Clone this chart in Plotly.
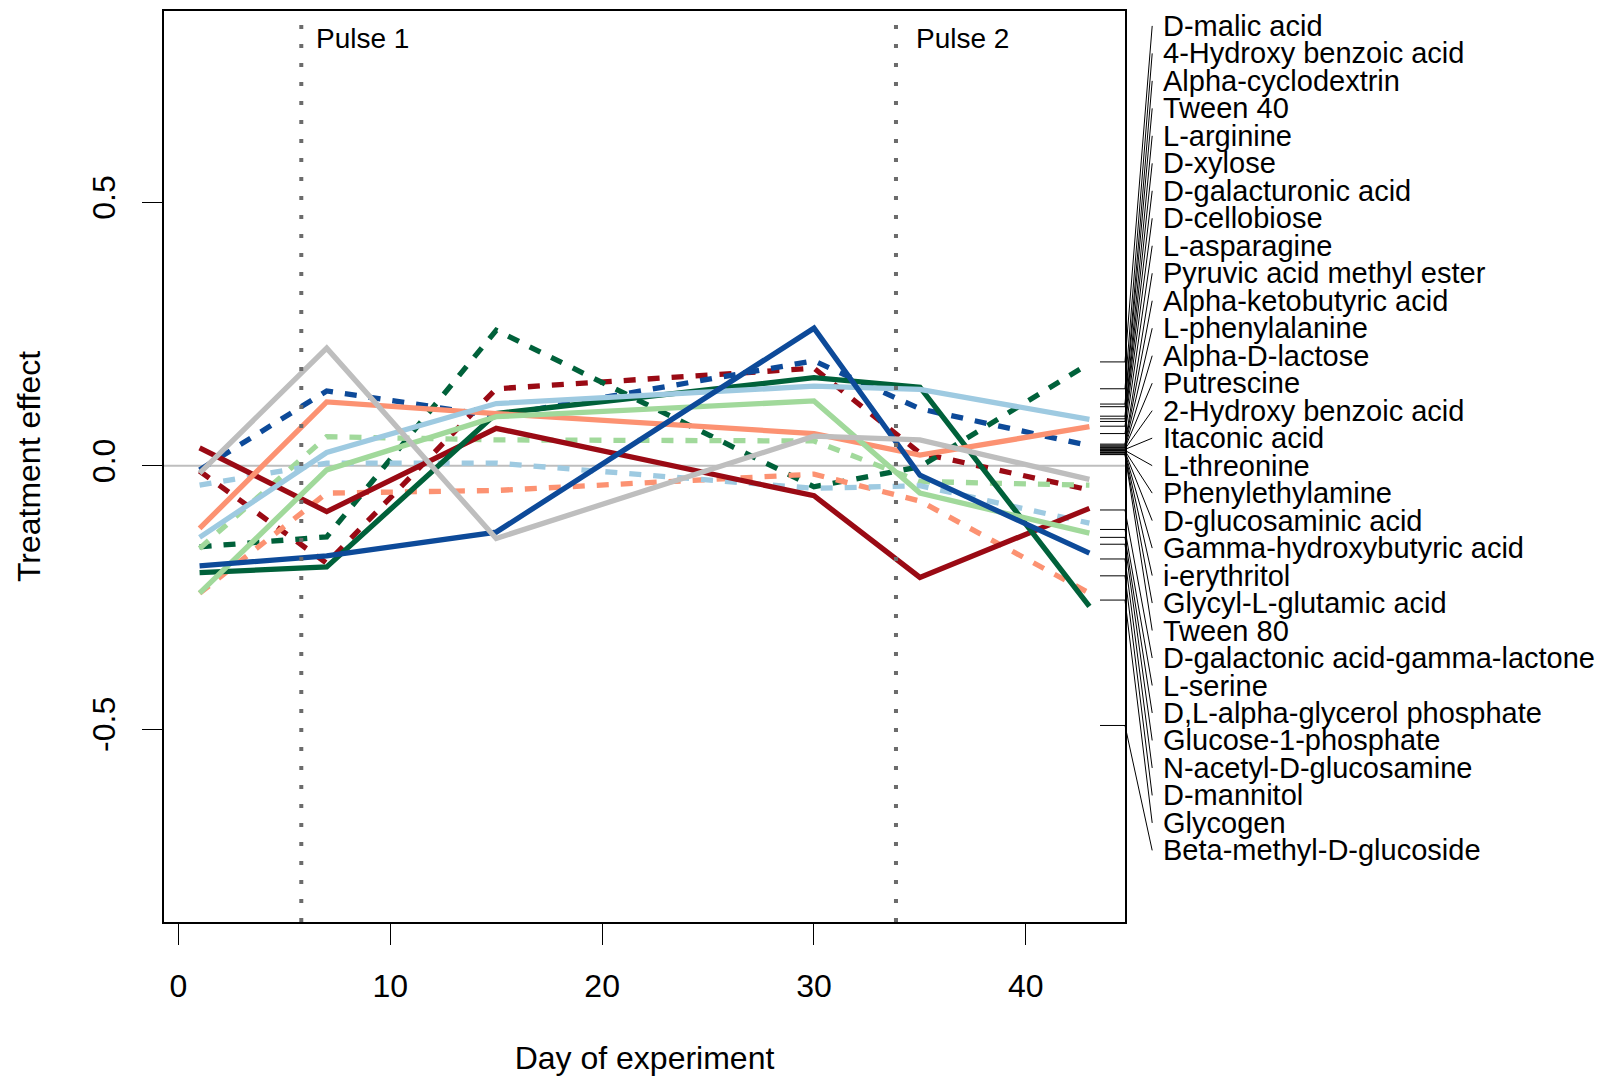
import plotly.graph_objects as go

# ---------------- data ----------------
days = [1, 7, 15, 30, 35, 43]

dark_red_solid = [0.034, -0.087, 0.071, -0.057, -0.212, -0.081]
dark_red_dashed = [-0.010, -0.185, 0.146, 0.185, 0.024, -0.046]
dark_blue_solid = [-0.190, -0.171, -0.126, 0.261, -0.018, -0.166]
dark_blue_dashed = [-0.008, 0.142, 0.094, 0.199, 0.108, 0.038]
dark_green_solid = [-0.203, -0.192, 0.099, 0.167, 0.149, -0.267]
dark_green_dashed = [-0.154, -0.135, 0.257, -0.040, -0.002, 0.194]
salmon_solid = [-0.119, 0.121, 0.099, 0.061, 0.020, 0.074]
salmon_dashed = [-0.242, -0.052, -0.047, -0.016, -0.067, -0.242]
light_green_solid = [-0.242, -0.008, 0.093, 0.123, -0.052, -0.128]
light_green_dashed = [-0.157, 0.055, 0.049, 0.047, -0.030, -0.037]
light_blue_solid = [-0.136, 0.025, 0.118, 0.151, 0.145, 0.088]
light_blue_dashed = [-0.037, 0.005, 0.005, -0.043, -0.038, -0.109]
gray_solid = [-0.014, 0.223, -0.138, 0.056, 0.049, -0.026]

substrates = [
    "D-malic acid", "4-Hydroxy benzoic acid", "Alpha-cyclodextrin", "Tween 40",
    "L-arginine", "D-xylose", "D-galacturonic acid", "D-cellobiose",
    "L-asparagine", "Pyruvic acid methyl ester", "Alpha-ketobutyric acid",
    "L-phenylalanine", "Alpha-D-lactose", "Putrescine", "2-Hydroxy benzoic acid",
    "Itaconic acid", "L-threonine", "Phenylethylamine", "D-glucosaminic acid",
    "Gamma-hydroxybutyric acid", "i-erythritol", "Glycyl-L-glutamic acid",
    "Tween 80", "D-galactonic acid-gamma-lactone", "L-serine",
    "D,L-alpha-glycerol phosphate", "Glucose-1-phosphate",
    "N-acetyl-D-glucosamine", "D-mannitol", "Glycogen", "Beta-methyl-D-glucoside",
]
final_effect = [
    0.197, 0.146, 0.117, 0.112, 0.094, 0.089, 0.084, 0.075, 0.061,
    0.041, 0.039, 0.037, 0.035, 0.034, 0.032, 0.031, 0.029, 0.028,
    0.026, 0.025, 0.024, 0.022, 0.021,
    -0.084, -0.121, -0.136, -0.149, -0.177, -0.209, -0.255, -0.493,
]

pulse_days = [5.8, 33.87]
pulse_labels = ["Pulse 1", "Pulse 2"]
pulse_text_days = [6.42, 34.71]

x_ticks = [0, 10, 20, 30, 40]
y_ticks = [-0.5, 0.0, 0.5]
y_ticktext = ["-0.5", "0.0", "0.5"]

# ---------------- styles ----------------
DRED, DBLUE, DGREEN = "#9A0A14", "#0D4A99", "#00613A"
SALMON, LGREEN, LBLUE, GRAY = "#FC9272", "#A1D99B", "#9ECAE1", "#BEBEBE"
DASH = "12px,12px"
LW = 5.3
FONT = "Liberation Sans, Arial, Helvetica, sans-serif"

series = [
    ("dark red dashed", dark_red_dashed, DRED, DASH),
    ("dark blue dashed", dark_blue_dashed, DBLUE, DASH),
    ("dark green dashed", dark_green_dashed, DGREEN, DASH),
    ("salmon dashed", salmon_dashed, SALMON, DASH),
    ("light green dashed", light_green_dashed, LGREEN, DASH),
    ("light blue dashed", light_blue_dashed, LBLUE, DASH),
    ("dark red solid", dark_red_solid, DRED, "solid"),
    ("dark green solid", dark_green_solid, DGREEN, "solid"),
    ("salmon solid", salmon_solid, SALMON, "solid"),
    ("light green solid", light_green_solid, LGREEN, "solid"),
    ("light blue solid", light_blue_solid, LBLUE, "solid"),
    ("dark blue solid", dark_blue_solid, DBLUE, "solid"),
    ("gray solid", gray_solid, GRAY, "solid"),
]

fig = go.Figure()
for name, vals, col, dash in series:
    fig.add_trace(go.Scatter(x=days, y=vals, mode="lines", name=name,
                             line=dict(color=col, width=LW, dash=dash),
                             hoverinfo="skip"))

W, H = 1606, 1079
ML, MR, MT, MB = 164, 480.5, 10.7, 156.7
YR = [-0.866, 0.863]

shapes = []
# zero reference line
shapes.append(dict(type="line", xref="paper", yref="y", x0=0, x1=1, y0=0, y1=0,
                   line=dict(color="#BEBEBE", width=2), layer="below"))
# pulse lines
for pd_ in pulse_days:
    shapes.append(dict(type="line", xref="x", yref="paper", x0=pd_, x1=pd_, y0=0, y1=1,
                       line=dict(color="#6B6B6B", width=4, dash="4px,15px")))

# right-side labels with leader lines
label_top = 0.8347
label_step = 0.05216
annotations = []
for i, (nm, v) in enumerate(zip(substrates, final_effect)):
    ly = label_top - i * label_step
    shapes.append(dict(type="line", xref="paper", yref="y", x0=0.974, x1=1.0, y0=v, y1=v,
                       line=dict(color="black", width=1)))
    shapes.append(dict(type="line", xref="paper", yref="y", x0=1.0, x1=1.0283, y0=v, y1=ly,
                       line=dict(color="black", width=1)))
    annotations.append(dict(xref="paper", yref="y", x=1.0377, y=ly, text=nm, showarrow=False,
                            xanchor="left", yanchor="middle",
                            font=dict(family=FONT, size=29, color="black")))

for t, xd in zip(pulse_labels, pulse_text_days):
    annotations.append(dict(xref="x", yref="paper", x=xd, y=0.970, text=t, showarrow=False,
                            xanchor="left", yanchor="middle",
                            font=dict(family=FONT, size=28, color="black")))

fig.update_layout(
    width=W, height=H,
    margin=dict(l=ML, r=MR, t=MT, b=MB, pad=0),
    plot_bgcolor="white", paper_bgcolor="white",
    showlegend=False,
    shapes=shapes, annotations=annotations,
    font=dict(family=FONT, color="black"),
    xaxis=dict(range=[-0.68, 44.68], tickvals=x_ticks, ticks="outside", ticklen=21,
               tickwidth=1.3, tickcolor="black", showline=True, linecolor="black",
               linewidth=2, mirror=True, showgrid=False, zeroline=False,
               automargin=False,
               tickfont=dict(size=32, family=FONT, color="black"),
               ticklabelstandoff=14,
               title=dict(text="Day of experiment", font=dict(size=32, family=FONT),
                          standoff=43)),
    yaxis=dict(range=YR, tickvals=y_ticks, ticktext=y_ticktext, ticks="outside",
               ticklen=20, tickwidth=1.3, tickcolor="black", showline=True,
               linecolor="black", linewidth=2, mirror=True, showgrid=False,
               zeroline=False, tickangle=-90, automargin=False,
               tickfont=dict(size=32, family=FONT, color="black"),
               ticklabelstandoff=14,
               title=dict(text="Treatment effect", font=dict(size=32, family=FONT),
                          standoff=36)),
)

fig.write_html("out.html")
